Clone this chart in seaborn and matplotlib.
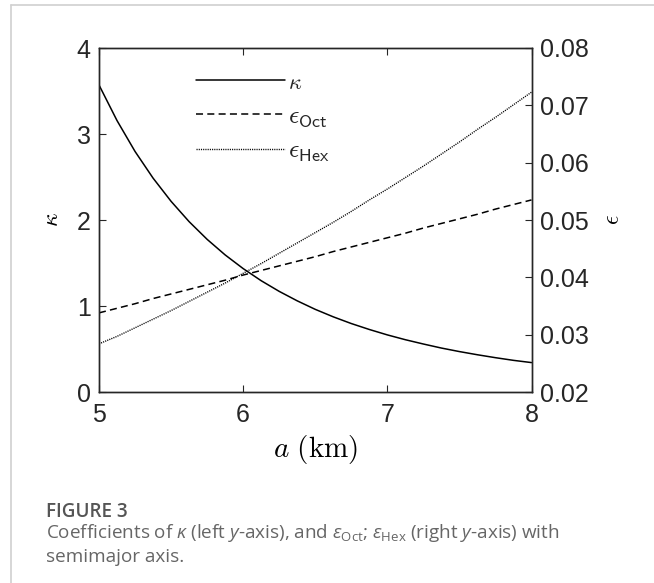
import matplotlib
matplotlib.use("Agg")
import matplotlib.pyplot as plt
import seaborn as sns
import pandas as pd
from matplotlib.lines import Line2D
from matplotlib.font_manager import FontProperties

# ---- data ----
a_km = [5.0, 5.125, 5.25, 5.375, 5.5, 5.625, 5.75, 5.875, 6.0, 6.125, 6.25, 6.375, 6.5,
        6.625, 6.75, 6.875, 7.0, 7.125, 7.25, 7.375, 7.5, 7.625, 7.75, 7.875, 8.0]
kappa = [3.57, 3.156, 2.797, 2.487, 2.217, 1.981, 1.775, 1.594, 1.435, 1.294, 1.170,
         1.060, 0.961, 0.874, 0.796, 0.727, 0.664, 0.608, 0.558, 0.511, 0.470, 0.433,
         0.399, 0.368, 0.342]
eps_oct = [0.0338, 0.0346, 0.0354, 0.0363, 0.0371, 0.0379, 0.0387, 0.0395, 0.0404,
           0.0412, 0.0420, 0.0428, 0.0436, 0.0445, 0.0453, 0.0461, 0.0469, 0.0477,
           0.0486, 0.0494, 0.0502, 0.0510, 0.0519, 0.0527, 0.0535]
eps_hex = [0.0284, 0.0297, 0.0312, 0.0327, 0.0342, 0.0358, 0.0374, 0.0390, 0.0407,
           0.0424, 0.0442, 0.0460, 0.0478, 0.0496, 0.0515, 0.0535, 0.0554, 0.0574,
           0.0594, 0.0615, 0.0636, 0.0658, 0.0679, 0.0701, 0.0723]
x_ticks = [5, 6, 7, 8]
left_ticks = [0, 1, 2, 3, 4]
right_ticks = [0.02, 0.03, 0.04, 0.05, 0.06, 0.07, 0.08]
right_tick_labels = ["0.02", "0.03", "0.04", "0.05", "0.06", "0.07", "0.08"]
legend_labels = [r"$\kappa$", r"$\epsilon_{\mathsf{Oct}}$", r"$\epsilon_{\mathsf{Hex}}$"]

sns.set_style("white")
plt.rcParams["font.family"] = ["Liberation Sans", "DejaVu Sans"]
plt.rcParams["mathtext.fontset"] = "custom"
plt.rcParams["mathtext.rm"] = "Open Sans"
plt.rcParams["mathtext.it"] = "Open Sans:italic"
plt.rcParams["mathtext.bf"] = "Open Sans:bold"

df = pd.DataFrame({"a": a_km, "kappa": kappa, "oct": eps_oct, "hex": eps_hex})

W, H = 654, 583
fig = plt.figure(figsize=(W / 100, H / 100), dpi=100)
ax = fig.add_axes([99 / W, 1 - 392 / H, 432.5 / W, 344 / H])
ax2 = ax.twinx()

axcol = "#262626"
dash = (0, (4.6, 2.8))
dot = (0, (0.8, 0.8))
sns.lineplot(data=df, x="a", y="kappa", ax=ax, color="black", linewidth=1.1)
sns.lineplot(data=df, x="a", y="oct", ax=ax2, color="black", linewidth=1.1, linestyle=dash)
sns.lineplot(data=df, x="a", y="hex", ax=ax2, color="black", linewidth=1.0, linestyle=dot)

ax.set_xlim(5, 8)
ax.set_ylim(0, 4)
ax2.set_ylim(0.02, 0.08)
ax.set_xticks(x_ticks)
ax.set_yticks(left_ticks)
ax2.set_yticks(right_ticks)
ax2.set_yticklabels(right_tick_labels)

for a_ in (ax, ax2):
    for sp in a_.spines.values():
        sp.set_color(axcol)
        sp.set_linewidth(1.0)
ax.tick_params(axis="x", direction="in", length=5, width=0.8, colors=axcol,
               labelsize=18, pad=8, top=True, bottom=True)
ax.tick_params(axis="y", direction="in", length=5, width=0.8, colors=axcol,
               labelsize=18, pad=6, left=True, right=False)
ax2.tick_params(axis="y", direction="in", length=5, width=0.8, colors=axcol,
                labelsize=18, pad=6, right=True, left=False)

ax.set_xlabel(r"$a\ (\mathrm{km})$", fontsize=21, color="black", labelpad=4,
              math_fontfamily="cm")
ax.set_ylabel(r"$\kappa$", fontsize=17, color="black", labelpad=10,
              math_fontfamily="cm")
ax2.set_ylabel(r"$\epsilon$", fontsize=17, color="black", labelpad=10,
               math_fontfamily="cm")

handles = [
    Line2D([], [], color="black", linewidth=1.1),
    Line2D([], [], color="black", linewidth=1.1, linestyle=dash),
    Line2D([], [], color="black", linewidth=1.0, linestyle=dot),
]
leg = ax2.legend(handles, legend_labels, loc="upper left", bbox_to_anchor=(0.183, 0.985),
                 frameon=False, prop=FontProperties(size=18.5, math_fontfamily="cm"),
                 handlelength=3.45, handletextpad=0.12, labelspacing=0.38, borderpad=0.2)
leg.texts[0].set_fontsize(16)

# page frame lines
fig.add_artist(Line2D([11 / W, 11 / W], [0, 1 - 5 / H], transform=fig.transFigure,
                      color="#d0d0d0", linewidth=1.2))
fig.add_artist(Line2D([11 / W, 1], [1 - 5 / H, 1 - 5 / H], transform=fig.transFigure,
                      color="#d0d0d0", linewidth=1.2))

# caption
cap_fam = ["Open Sans", "DejaVu Sans"]
fig.text(46 / W, 1 - 517 / H, "FIGURE 3", fontsize=13.6, color="#555555",
         family=cap_fam, weight="semibold", va="baseline")
fig.text(46 / W, 1 - 538 / H,
         r"Coefficients of $\kappa$ (left $y$-axis), and $\varepsilon_{\mathrm{Oct}}$; "
         r"$\varepsilon_{\mathrm{Hex}}$ (right $y$-axis) with",
         fontsize=13.6, color="#666666", family=cap_fam, va="baseline")
fig.text(46 / W, 1 - 562 / H, "semimajor axis.", fontsize=13.6, color="#666666",
         family=cap_fam, va="baseline")

fig.savefig("out.png", dpi=100)
